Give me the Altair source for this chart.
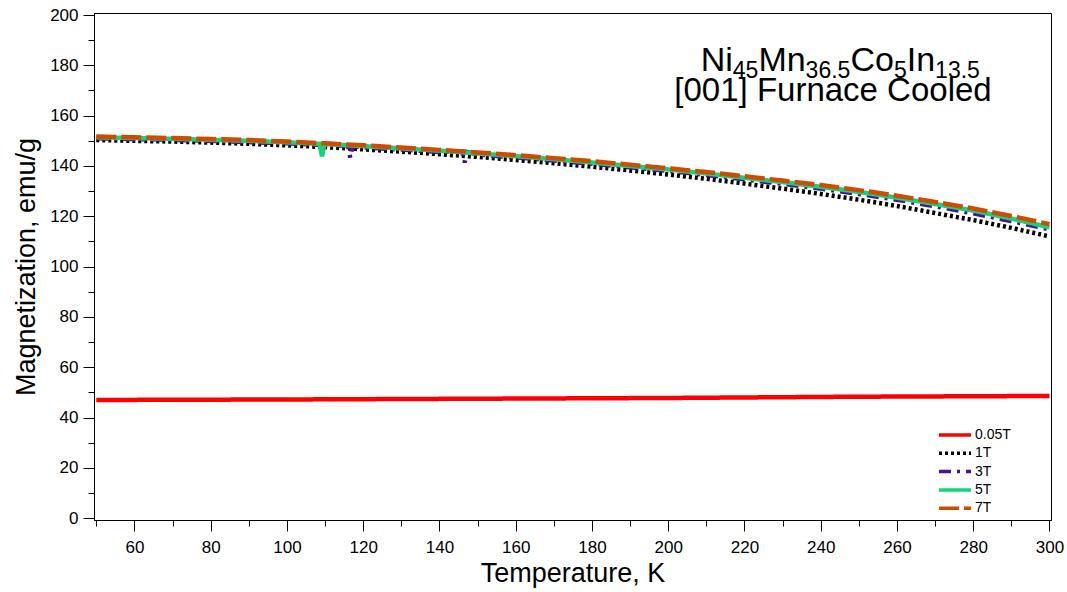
import altair as alt
import pandas as pd

# Temperature grid (K) shared by the high-field curves
temps = [50, 60, 70, 80, 90, 100, 110, 120, 130, 140, 150, 160, 170,
         180, 190, 200, 210, 220, 230, 240, 250, 260, 270, 280, 290, 300]

m_1t = [150.3, 150.0, 149.7, 149.3, 148.8, 148.2, 147.5, 146.6, 145.7, 144.7,
        143.6, 142.4, 141.1, 139.7, 138.2, 136.6, 134.9, 133.0, 131.0, 128.9,
        126.6, 124.1, 121.3, 118.5, 115.4, 112.0]
m_3t = [151.0, 150.7, 150.4, 150.0, 149.5, 149.0, 148.3, 147.4, 146.5, 145.6,
        144.6, 143.4, 142.2, 140.9, 139.5, 138.1, 136.4, 134.7, 132.9, 131.0,
        128.9, 126.6, 124.0, 121.2, 118.1, 114.8]
m_5t = [151.4, 151.1, 150.8, 150.4, 150.0, 149.4, 148.7, 147.9, 147.0, 146.1,
        145.0, 143.9, 142.7, 141.4, 140.0, 138.6, 137.0, 135.3, 133.6, 131.7,
        129.7, 127.4, 124.9, 122.3, 119.1, 115.6]
m_7t = [151.7, 151.4, 151.1, 150.7, 150.3, 149.7, 149.0, 148.2, 147.3, 146.4,
        145.4, 144.3, 143.1, 141.9, 140.5, 139.1, 137.6, 135.9, 134.2, 132.4,
        130.4, 128.2, 125.7, 123.1, 120.1, 116.9]

# Low-field curve
temps_low = [50, 100, 150, 200, 250, 300]
m_005t = [47.0, 47.2, 47.5, 47.8, 48.3, 48.6]

# Short downward glitches in the measured curves (T, M)
glitch_3t = [(116.0, 148.0), (116.6, 143.3), (117.2, 147.9),
             (146.0, 145.7), (146.6, 141.4), (147.2, 145.6)]
glitch_5t = [(108.6, 148.8), (109.2, 143.8), (109.8, 148.7)]

fields = ["0.05T", "1T", "3T", "5T", "7T"]
colors = ["#ff0000", "#000000", "#4b0f9f", "#16d27a", "#d04a00"]
dashes = [[1, 0], [3, 3], [12, 6, 3, 6], [1, 0], [20, 5]]

rows = []
for t, m in zip(temps_low, m_005t):
    rows.append({"T": t, "M": m, "field": "0.05T"})
for name, vals, extra in [("1T", m_1t, []), ("3T", m_3t, glitch_3t),
                          ("5T", m_5t, glitch_5t), ("7T", m_7t, [])]:
    for t, m in zip(temps, vals):
        rows.append({"T": t, "M": m, "field": name})
    for t, m in extra:
        rows.append({"T": t, "M": m, "field": name})
df = pd.DataFrame(rows)

FONT = "Liberation Sans"

legend = alt.Legend(
    title=None, orient="none", legendX=843, legendY=413,
    symbolType="stroke", symbolSize=1024, symbolStrokeWidth=3.5,
    labelFont=FONT, labelFontSize=14, labelColor="#000", labelOffset=2,
    clipHeight=18, rowPadding=0.3, padding=0,
)

x_axis = alt.Axis(
    values=list(range(50, 301, 10)),
    labelExpr="datum.value % 20 === 0 ? datum.label : ''",
    tickSize={"condition": {"test": "datum.value % 20 === 0", "value": 11}, "value": 6},
    labelFlush=False, labelOverlap=False, labelPadding=8,
    title="Temperature, K", titlePadding=5,
)
y_axis = alt.Axis(
    values=list(range(0, 201, 10)),
    labelExpr="datum.value % 20 === 0 ? datum.label : ''",
    tickSize={"condition": {"test": "datum.value % 20 === 0", "value": 11}, "value": 6},
    labelFlush=False, labelOverlap=False, labelPadding=5,
    title="Magnetization, emu/g", titlePadding=9,
)

lines = alt.Chart(df).mark_line(strokeWidth=4.5, clip=True).encode(
    x=alt.X("T:Q", scale=alt.Scale(domain=[49.4, 300.4], nice=False, zero=False), axis=x_axis),
    y=alt.Y("M:Q", scale=alt.Scale(domain=[-0.7, 200.8], nice=False, zero=False), axis=y_axis),
    color=alt.Color("field:N", scale=alt.Scale(domain=fields, range=colors), legend=legend),
    strokeDash=alt.StrokeDash("field:N", scale=alt.Scale(domain=fields, range=dashes), legend=legend),
)

# Sample label: chemical formula with subscripts, then the processing note
label_pieces = pd.DataFrame([
    {"txt": "Ni", "px": 606.7, "py": 58.0, "fs": 34},
    {"txt": "45", "px": 638.8, "py": 64.7, "fs": 23},
    {"txt": "Mn", "px": 664.4, "py": 58.0, "fs": 34},
    {"txt": "36.5", "px": 711.6, "py": 64.7, "fs": 23},
    {"txt": "Co", "px": 756.4, "py": 58.0, "fs": 34},
    {"txt": "5", "px": 799.9, "py": 64.7, "fs": 23},
    {"txt": "In", "px": 812.7, "py": 58.0, "fs": 34},
    {"txt": "13.5", "px": 841.1, "py": 64.7, "fs": 23},
])
formula = alt.Chart(label_pieces).mark_text(
    align="left", baseline="alphabetic", font=FONT, color="#000"
).encode(
    x=alt.X("px:Q", scale=None),
    y=alt.Y("py:Q", scale=None),
    size=alt.Size("fs:Q", scale=None, legend=None),
    text="txt:N",
)

note = alt.Chart(pd.DataFrame([{"txt": "[001] Furnace Cooled", "px": 739.0, "py": 88.0}])).mark_text(
    align="center", baseline="alphabetic", font=FONT, fontSize=33, color="#000"
).encode(
    x=alt.X("px:Q", scale=None),
    y=alt.Y("py:Q", scale=None),
    text="txt:N",
)

chart = alt.layer(lines, formula, note).properties(
    width=957, height=507,
    padding={"left": 94, "top": 13, "right": 16, "bottom": 72},
    autosize=alt.AutoSizeParams(type="none"),
).configure(
    font=FONT,
).configure_view(
    stroke="#000", strokeWidth=1,
).configure_axis(
    grid=False, domainColor="#000", domainWidth=1, tickColor="#000", tickWidth=1,
    labelColor="#000", labelFont=FONT, labelFontSize=17,
    titleColor="#000", titleFont=FONT, titleFontSize=27, titleFontWeight="normal",
)

chart.save("out.html", embed_options={"renderer": "svg", "actions": False})
